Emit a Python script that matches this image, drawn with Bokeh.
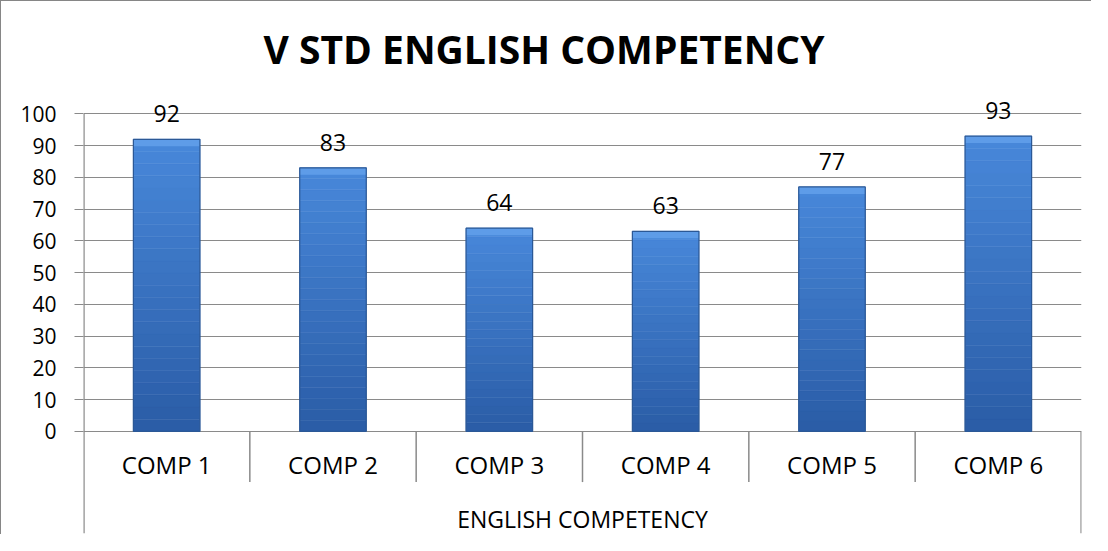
from bokeh.plotting import figure
from bokeh.models import FactorRange, Range1d, FixedTicker, ColumnDataSource, LabelSet
from bokeh.embed import file_html
from bokeh.resources import INLINE
from bokeh.core.properties import value

# ---- data ----
categories = ["COMP 1", "COMP 2", "COMP 3", "COMP 4", "COMP 5", "COMP 6"]
scores = [92, 83, 64, 63, 77, 93]
y_ticks = [0, 10, 20, 30, 40, 50, 60, 70, 80, 90, 100]
group_label = "ENGLISH COMPETENCY"
title_text = "V STD ENGLISH COMPETENCY"

FONT = "Open Sans"
GRAY = "#8a8a8a"
Y_MIN = -32.2
Y_MAX = 108.0
Y_TOP_TICK = y_ticks[-1]

p = figure(
    x_range=FactorRange(factors=categories),
    y_range=Range1d(Y_MIN, Y_MAX),
    frame_width=998, frame_height=445,
    min_border_left=82, min_border_right=10,
    min_border_top=87, min_border_bottom=1,
    output_backend="svg", toolbar_location=None,
    title=title_text,
)
p.styles = {"border-left": "1px solid #868686", "border-top": "1px solid #868686"}
p.outline_line_color = None
p.background_fill_color = "white"
p.border_fill_color = "white"

p.title.text_font = FONT
p.title.text_font_style = "bold"
p.title.text_font_size = "39px"
p.title.align = "left"
p.title.text_color = "black"
p.title.standoff = 27
p.title.offset = 180

# axes
p.xaxis.visible = False
p.xgrid.grid_line_color = None
p.yaxis.ticker = FixedTicker(ticks=y_ticks)
p.ygrid.ticker = FixedTicker(ticks=y_ticks)
p.ygrid.grid_line_color = GRAY
p.ygrid.grid_line_width = 1.2
p.yaxis.axis_line_color = None
p.yaxis.major_tick_line_color = GRAY
p.yaxis.major_tick_line_width = 1.2
p.yaxis.major_tick_out = 9
p.yaxis.major_tick_in = 0
p.yaxis.minor_tick_line_color = None
p.yaxis.major_label_standoff = 18
p.yaxis.major_label_text_font = FONT
p.yaxis.major_label_text_font_size = "21px"
p.yaxis.major_label_text_color = "black"

# left axis line, only from the bottom of the category area up to 100
p.segment(x0=[0], y0=[Y_MIN], x1=[0], y1=[Y_TOP_TICK], line_color=GRAY, line_width=2.4)

# bars with a vertical gradient (bands)
n_bands = 24
bottom_rgb = (0x2A, 0x5C, 0xA6)
top_rgb = (0x48, 0x88, 0xDA)
bx, bb, bt, bc = [], [], [], []
for c, v in zip(categories, scores):
    for i in range(n_bands):
        f = (i + 0.5) / n_bands
        col = "#%02x%02x%02x" % tuple(int(round(b + (t - b) * f)) for b, t in zip(bottom_rgb, top_rgb))
        bx.append(c)
        bb.append(v * i / n_bands)
        bt.append(v * (i + 1) / n_bands)
        bc.append(col)
p.vbar(x=bx, bottom=bb, top=bt, width=0.4, fill_color=bc, line_color=bc, line_width=0.5)
# light bevel at the top of each bar
p.vbar(x=categories, bottom=[v - 2.2 for v in scores], top=scores, width=0.4,
       fill_color="#5E9CE8", line_color=None)
p.vbar(x=categories, top=scores, width=0.4, fill_color=None, line_color="#2B5896", line_width=1.2)

# data labels
src = ColumnDataSource(dict(x=categories, y=scores, t=[str(v) for v in scores]))
labels = LabelSet(x="x", y="y", text="t", source=src,
                  text_align="center", text_baseline="bottom", y_offset=17,
                  text_font=value(FONT), text_font_size="23px", text_color="black")
p.add_layout(labels)

# category axis drawn inside the frame below zero
n = len(categories)
bounds = list(range(1, n))
p.segment(x0=bounds, y0=[0] * len(bounds), x1=bounds, y1=[-16] * len(bounds),
          line_color=GRAY, line_width=1.5)
p.segment(x0=[n - 0.002], y0=[0], x1=[n - 0.002], y1=[Y_MIN],
          line_color=GRAY, line_width=1.5)
p.text(x=categories, y=[-10.6] * n, text=categories,
       text_align="center", text_baseline="middle",
       text_font=value(FONT), text_font_size="24px", text_color="black")
p.text(x=[n / 2], y=[-27.6], text=[group_label],
       text_align="center", text_baseline="middle",
       text_font=value(FONT), text_font_size="23px", text_color="black")

open("out.html", "w").write(file_html(p, INLINE))
